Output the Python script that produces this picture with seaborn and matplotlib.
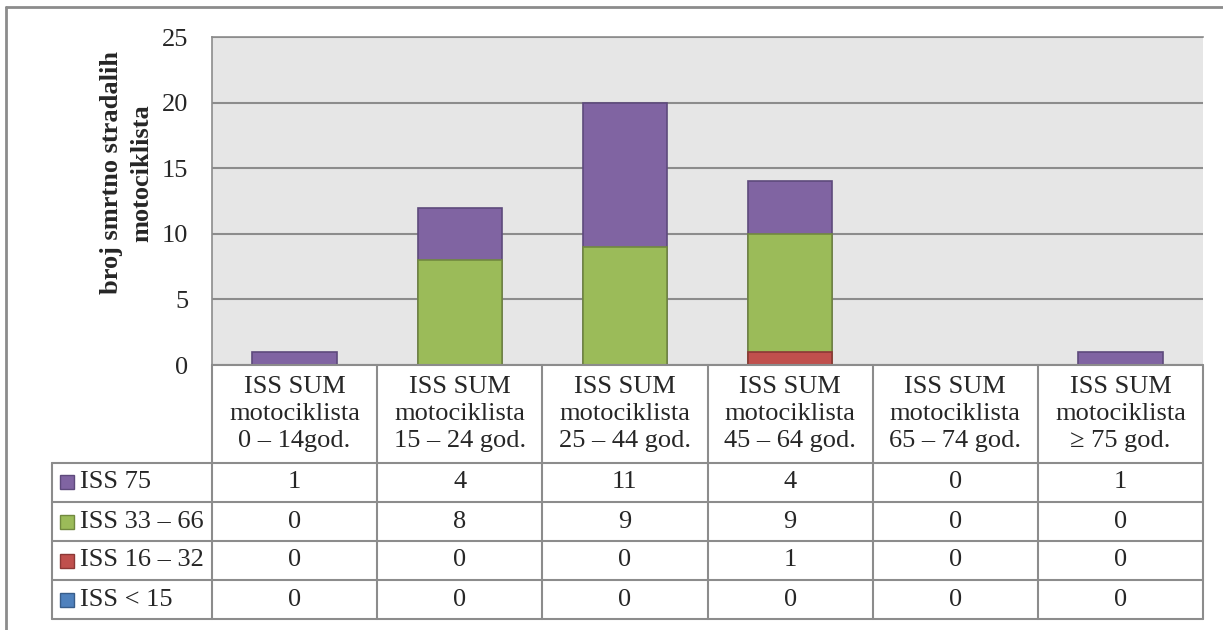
import matplotlib
matplotlib.use('Agg')
import matplotlib.pyplot as plt
import seaborn as sns
import pandas as pd
from matplotlib.patches import Rectangle
from matplotlib.lines import Line2D

# --- podaci ---
groups = ['ISS SUM\nmotociklista\n0 – 14god.',
          'ISS SUM\nmotociklista\n15 – 24 god.',
          'ISS SUM\nmotociklista\n25 – 44 god.',
          'ISS SUM\nmotociklista\n45 – 64 god.',
          'ISS SUM\nmotociklista\n65 – 74 god.',
          'ISS SUM\nmotociklista\n≥ 75 god.']
series_names = ['ISS 75', 'ISS 33 – 66', 'ISS 16 – 32', 'ISS < 15']
iss_75 = [1, 4, 11, 4, 0, 1]
iss_33_66 = [0, 8, 9, 9, 0, 0]
iss_16_32 = [0, 0, 0, 1, 0, 0]
iss_lt15 = [0, 0, 0, 0, 0, 0]
yticks = [0, 5, 10, 15, 20, 25]
ylabel = 'broj smrtno stradalih\nmotociklista'

fill = ['#8064A2', '#9BBB59', '#C0504D', '#4F81BD']
edge = ['#5E4A7C', '#71893F', '#8C3836', '#385D8A']
line_col = '#8C8C8C'
FS = 19

sns.set_style('white')
plt.rcParams['font.family'] = ['Liberation Serif', 'DejaVu Serif']

W, H = 1223, 630
fig = plt.figure(figsize=(W / 100, H / 100), dpi=100)


def fx(px):
    return px / W


def fy(py):
    return 1 - py / H


# --- glavni graf ---
plot_l, plot_r, plot_t, plot_b = 212, 1203, 37, 365
ax = fig.add_axes([fx(plot_l), fy(plot_b), fx(plot_r - plot_l), (plot_b - plot_t) / H])
ax.set_facecolor('#E6E6E6')

values = [iss_75, iss_33_66, iss_16_32, iss_lt15]
df = pd.DataFrame({'grupa': groups})
for name, v in zip(series_names, values):
    df[name] = v

# stacked bars: kumulativne visine, gornji segment se crta prvi
for i, name in enumerate(series_names):
    cum = df[series_names[i:]].sum(axis=1)
    sub = pd.DataFrame({'grupa': df['grupa'], 'h': cum})[cum > 0]
    if sub.empty:
        continue
    sns.barplot(data=sub, x='grupa', y='h', order=groups, color=fill[i],
                saturation=1, width=0.51, edgecolor=edge[i], linewidth=1.2,
                errorbar=None, ax=ax, zorder=3)

ax.set_xlim(-0.5, len(groups) - 0.5)
ax.set_ylim(0, 25)
ax.set_yticks(yticks)
ax.set_xticks([])
ax.set_xlabel('')
ax.set_axisbelow(True)
ax.grid(axis='y', color=line_col, lw=1.5)
ax.tick_params(axis='y', length=0, pad=17, labelsize=FS)
for s in ['right', 'bottom']:
    ax.spines[s].set_visible(False)
for s in ['left', 'top']:
    ax.spines[s].set_color(line_col)
    ax.spines[s].set_linewidth(1.2)
ax.set_ylabel(ylabel, fontsize=FS, fontweight='bold', linespacing=1.4)
ax.yaxis.label.set_va('center')
ax.yaxis.set_label_coords((127 - plot_l) / (plot_r - plot_l), (plot_b - 173) / (plot_b - plot_t))

# --- tablica podataka ---
tab_l, tab_b = 52, 619
unit = (plot_r - plot_l) / len(groups)
tax = fig.add_axes([fx(tab_l), fy(tab_b), fx(plot_r - tab_l), (tab_b - plot_b) / H])
x_left = -0.5 - (plot_l - tab_l) / unit
tax.set_xlim(x_left, len(groups) - 0.5)
tax.set_ylim(tab_b - plot_b, 0)
tax.axis('off')

head_h = 98
row_h = 39
row_edges = [head_h + k * row_h for k in range(len(series_names) + 1)]
lkw = dict(color=line_col, lw=1.5, clip_on=False)

tax.plot([-0.5, len(groups) - 0.5], [0, 0], **lkw)
for y in row_edges:
    tax.plot([x_left, len(groups) - 0.5], [y, y], **lkw)
for k in range(len(groups) + 1):
    tax.plot([k - 0.5, k - 0.5], [0, row_edges[-1]], **lkw)
tax.plot([x_left, x_left], [row_edges[0], row_edges[-1]], **lkw)

for j, g in enumerate(groups):
    tax.text(j, head_h / 2, g, ha='center', va='center', fontsize=FS, linespacing=1.3)

for r, (name, v) in enumerate(zip(series_names, values)):
    yc = (row_edges[r] + row_edges[r + 1]) / 2
    tax.add_patch(Rectangle((x_left + 8 / unit, yc - 7), 14 / unit, 14,
                            facecolor=fill[r], edgecolor=edge[r], lw=1, clip_on=False))
    tax.text(x_left + 28 / unit, yc, name, ha='left', va='center', fontsize=FS)
    for j, val in enumerate(v):
        tax.text(j, yc, str(val), ha='center', va='center', fontsize=FS)

# vanjski okvir
fig.add_artist(Line2D([fx(6), 1], [fy(7), fy(7)], color=line_col, lw=2))
fig.add_artist(Line2D([fx(6), fx(6)], [0, fy(7)], color=line_col, lw=2))

fig.savefig('out.png', dpi=100)
